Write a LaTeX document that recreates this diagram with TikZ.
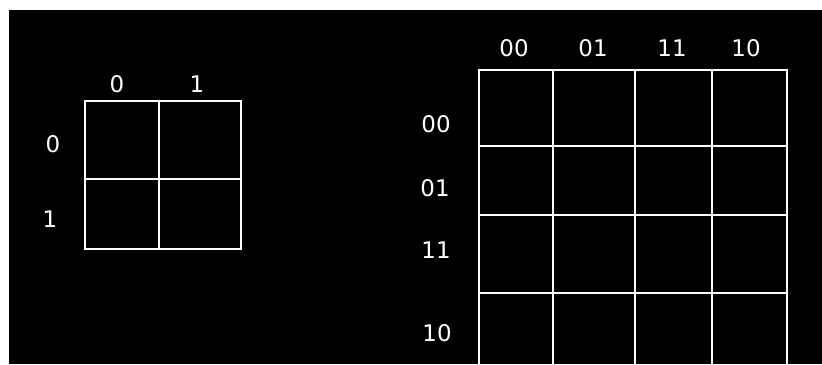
\documentclass[tikz,border=0pt]{standalone}
\usepackage{fontspec}
\setmainfont{DejaVu Sans}
\begin{document}
\begin{tikzpicture}[x=1bp,y=-1bp,
  lbl/.style={text=white,inner sep=0pt,font=\fontsize{23}{23}\selectfont},
  gridline/.style={draw=white,line width=2.6bp}]
\useasboundingbox (0,0) rectangle (822,364);
\clip (0,0) rectangle (822,364);
\fill[white] (0,0) rectangle (822,364);
\fill[black] (9,10) rectangle (822,364);
% small map
\draw[gridline] (85,101) rectangle (241,249);
\draw[gridline] (159,101) -- (159,249);
\draw[gridline] (85,179) -- (241,179);
\node[lbl] (sc0) at (117,84) {0};
\node[lbl] (sc1) at (197,84) {1};
\node[lbl] (sr0) at (53,144) {0};
\node[lbl] (sr1) at (50,219) {1};
% big map
\draw[gridline] (479,70) rectangle (787,380);
\foreach \x in {553,635,712} \draw[gridline] (\x,70) -- (\x,380);
\foreach \y in {146,215,293} \draw[gridline] (479,\y) -- (787,\y);
\node[lbl] (bc1) at (514,48) {00};
\node[lbl] (bc2) at (593,48) {01};
\node[lbl] (bc3) at (672,48) {11};
\node[lbl] (bc4) at (746,48) {10};
\node[lbl] (br1) at (436,124) {00};
\node[lbl] (br2) at (435,188) {01};
\node[lbl] (br3) at (436,250) {11};
\node[lbl] (br4) at (437,333) {10};
\end{tikzpicture}
\end{document}
